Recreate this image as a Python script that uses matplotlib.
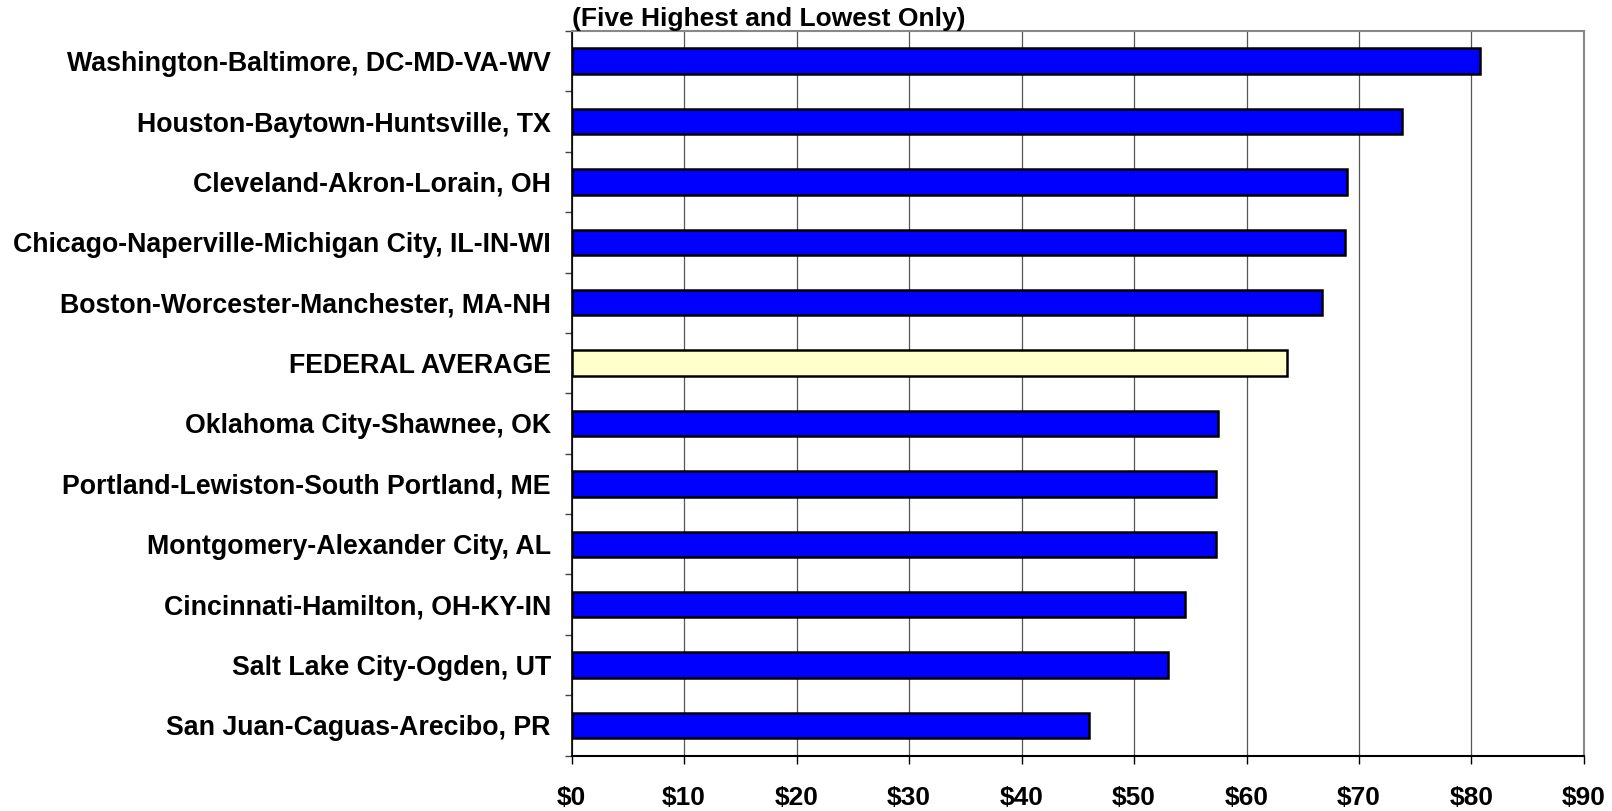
import matplotlib
matplotlib.use("Agg")
import matplotlib.pyplot as plt
import numpy as np
from matplotlib.ticker import FixedLocator

# data, top to bottom as in the chart
cities = [
    "Washington-Baltimore, DC-MD-VA-WV",
    "Houston-Baytown-Huntsville, TX",
    "Cleveland-Akron-Lorain, OH",
    "Chicago-Naperville-Michigan City, IL-IN-WI",
    "Boston-Worcester-Manchester, MA-NH",
    "FEDERAL AVERAGE",
    "Oklahoma City-Shawnee, OK",
    "Portland-Lewiston-South Portland, ME",
    "Montgomery-Alexander City, AL",
    "Cincinnati-Hamilton, OH-KY-IN",
    "Salt Lake City-Ogden, UT",
    "San Juan-Caguas-Arecibo, PR",
]
values = [80.8, 73.8, 68.9, 68.8, 66.7, 63.6, 57.5, 57.3, 57.3, 54.5, 53.0, 46.0]
x_ticks = [0, 10, 20, 30, 40, 50, 60, 70, 80, 90]
x_labels = ["$%d" % t for t in x_ticks]
title = "(Five Highest and Lowest Only)"

plt.rcParams['font.family'] = ['Liberation Sans', 'DejaVu Sans']

fig = plt.figure(figsize=(16.12, 8.11), dpi=100)
ax = fig.add_axes([0.3546, 0.0683, 0.6280, 0.8935])

n = len(cities)
y = np.arange(n)
colors = ["#FFFFCC" if c == "FEDERAL AVERAGE" else "#0000FF" for c in cities]
ax.barh(y, values, height=0.42, color=colors, edgecolor="black", linewidth=1.8, zorder=3)

ax.set_xlim(0, 90)
ax.set_ylim(n - 0.5, -0.5)
ax.xaxis.set_major_locator(FixedLocator(x_ticks))
ax.set_xticklabels(x_labels, fontsize=19, fontweight="bold")
ax.tick_params(axis="x", direction="out", length=6, width=1, pad=16, color="black")

ax.set_yticks(y)
ax.set_yticklabels(cities, fontsize=19.3, fontweight="bold")
ax.tick_params(axis="y", which="major", length=0, pad=15)
ax.yaxis.set_minor_locator(FixedLocator(np.arange(-0.5, n, 1.0)))
ax.tick_params(axis="y", which="minor", direction="out", length=5, width=1, color="#444444")

ax.grid(axis="x", color="#555555", linewidth=0.9, zorder=0)
ax.set_axisbelow(True)

for side in ["top", "right"]:
    ax.spines[side].set_color("#888888")
    ax.spines[side].set_linewidth(1.5)
ax.spines["left"].set_color("black")
ax.spines["left"].set_linewidth(1.2)
ax.spines["bottom"].set_color("black")
ax.spines["bottom"].set_linewidth(1.5)

ax.text(0, 1.0, title, transform=ax.transAxes, fontsize=19, fontweight="bold",
        ha="left", va="bottom")

fig.savefig("out.png", dpi=100)
